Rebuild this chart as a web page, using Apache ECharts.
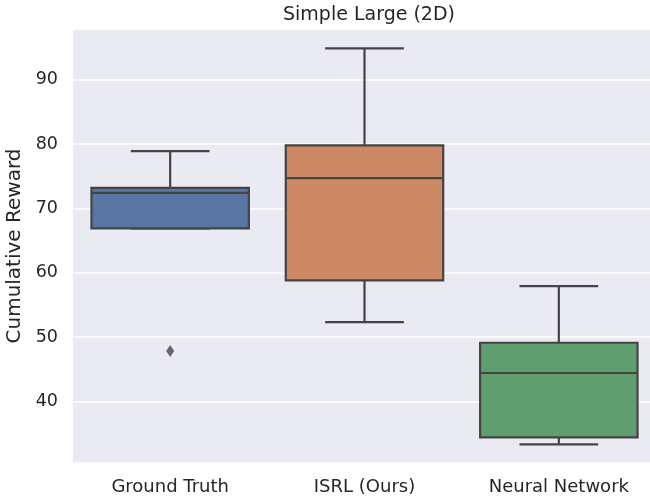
<!DOCTYPE html>
<html>
<head>
<meta charset="utf-8">
<script src="https://cdn.jsdelivr.net/npm/echarts@6/dist/echarts.min.js"></script>
<style>html,body{margin:0;padding:0;background:#fff}#c{width:650px;height:499px}</style>
</head>
<body>
<div id="c"></div>
<script>
const categories = ['Ground Truth', 'ISRL (Ours)', 'Neural Network'];
// [min whisker, Q1, median, Q3, max whisker]
const groundTruth = [66.9, 66.9, 72.4, 73.2, 78.9];
const isrl = [52.3, 58.8, 74.7, 79.8, 94.9];
const neuralNet = [33.3, 34.4, 44.4, 49.1, 57.9];
const outliers = [[0, 47.8]];
const colors = ['#5875a4', '#cc8963', '#5f9e6e'];
const yTicks = [40, 50, 60, 70, 80, 90];

const boxes = [groundTruth, isrl, neuralNet];
const edge = '#444444';
const lw = 2.2;

const chart = echarts.init(document.getElementById('c'));
chart.setOption({
  animation: false,
  title: {
    text: 'Simple Large (2D)', left: 364, top: 1, textAlign: 'center',
    textStyle: {fontFamily: 'DejaVu Sans', fontSize: 19, fontWeight: 'normal', color: '#262626'}
  },
  grid: {left: 73, right: -6, top: 29, bottom: 36, outerBoundsMode: 'none', containLabel: false,
    show: true, backgroundColor: '#eaeaf2', borderWidth: 0},
  xAxis: {
    type: 'category', data: categories, boundaryGap: true,
    axisLine: {show: false}, axisTick: {show: false}, splitLine: {show: false},
    axisLabel: {fontFamily: 'DejaVu Sans', fontSize: 18, color: '#262626', margin: 15}
  },
  yAxis: {
    type: 'value', min: 30.4, max: 97.9,
    name: 'Cumulative Reward', nameLocation: 'middle', nameGap: 47,
    nameTextStyle: {fontFamily: 'DejaVu Sans', fontSize: 20, color: '#262626'},
    axisLine: {show: false}, axisTick: {show: false},
    axisLabel: {
      fontFamily: 'DejaVu Sans', fontSize: 17.5, color: '#262626', margin: 15,
      showMinLabel: false, showMaxLabel: false,
      formatter: v => yTicks.includes(v) ? String(v) : ''
    },
    splitLine: {lineStyle: {color: '#ffffff', width: 1.5}}
  },
  series: [
    {
      type: 'custom',
      data: boxes.map((b, i) => [i].concat(b)),
      encode: {x: 0, y: [1, 2, 3, 4, 5]},
      renderItem: function (params, api) {
        const i = api.value(0);
        const band = api.size([1, 0])[0];
        const bw = band * 0.81;
        const cw = bw * 0.5;
        const p = k => api.coord([i, api.value(k)]);
        const pmin = p(1), pq1 = p(2), pmed = p(3), pq3 = p(4), pmax = p(5);
        const cx = pmin[0];
        const ls = {stroke: edge, lineWidth: lw};
        return {
          type: 'group',
          children: [
            {type: 'line', shape: {x1: cx, y1: pq3[1], x2: cx, y2: pmax[1]}, style: ls},
            {type: 'line', shape: {x1: cx, y1: pq1[1], x2: cx, y2: pmin[1]}, style: ls},
            {type: 'line', shape: {x1: cx - cw / 2, y1: pmax[1], x2: cx + cw / 2, y2: pmax[1]}, style: ls},
            {type: 'line', shape: {x1: cx - cw / 2, y1: pmin[1], x2: cx + cw / 2, y2: pmin[1]}, style: ls},
            {type: 'rect', shape: {x: cx - bw / 2, y: pq3[1], width: bw, height: pq1[1] - pq3[1]},
              style: {fill: colors[i], stroke: edge, lineWidth: lw}},
            {type: 'line', shape: {x1: cx - bw / 2, y1: pmed[1], x2: cx + bw / 2, y2: pmed[1]}, style: ls}
          ]
        };
      }
    },
    {
      type: 'scatter', data: outliers, symbol: 'diamond', symbolSize: [8, 12],
      itemStyle: {color: edge}
    }
  ]
});
</script>
</body>
</html>
